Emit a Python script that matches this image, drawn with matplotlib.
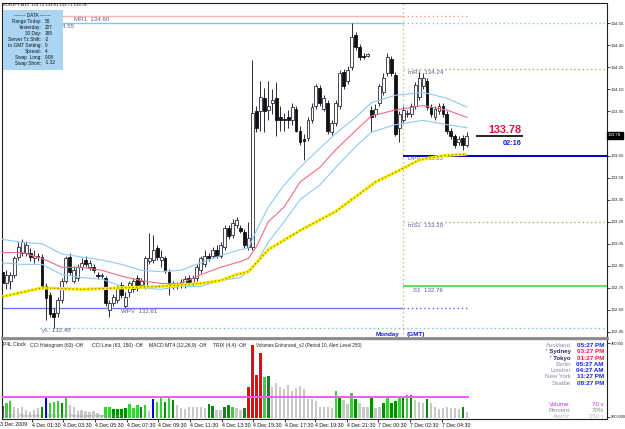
import matplotlib
matplotlib.use("Agg")
import matplotlib.pyplot as plt
import numpy as np
from matplotlib.patches import Rectangle

plt.rcParams['font.family'] = ['Liberation Sans', 'DejaVu Sans']

# ---- candles (EURJPY M15) ----
opens = [
    132.86, 132.78, 132.80, 132.84, 132.96, 132.99, 132.99, 132.99, 132.95, 132.97,
    132.96, 132.76, 132.70, 132.58, 132.58, 132.67, 132.80, 132.96, 132.80, 132.82,
    132.89, 132.94, 132.89, 132.89, 132.84, 132.83, 132.82, 132.60, 132.65, 132.67,
    132.77, 132.63, 132.72, 132.74, 132.82, 132.77, 132.76, 132.93, 132.94, 133.02,
    132.94, 132.95, 132.86, 132.78, 132.77, 132.77, 132.77, 132.82, 132.78, 132.82,
    132.87, 132.91, 132.97, 132.97, 133.01, 132.97, 133.03, 133.16, 133.11, 133.18,
    133.16, 133.13, 133.03, 133.03, 133.95, 133.95, 134.04, 133.96, 134.01, 134.04,
    133.91, 133.90, 133.91, 133.89, 133.97, 133.82, 133.76, 133.77, 133.89, 133.99,
    134.11, 133.97, 134.01, 133.81, 133.87, 133.99, 134.22, 134.16, 134.25, 134.47,
    134.39, 134.33, 134.33, 133.96, 133.93, 134.01, 134.08, 134.21, 134.31, 134.20,
    133.84, 133.89, 133.93, 133.93, 133.99, 134.05, 134.12, 134.16, 133.98, 133.91,
    133.95, 133.99, 133.93, 133.82, 133.78, 133.74, 133.77, 133.72]
closes = [
    132.78, 132.84, 132.84, 132.95, 133.03, 133.06, 133.04, 132.96, 132.97, 132.96,
    132.76, 132.68, 132.57, 132.55, 132.67, 132.80, 132.95, 132.86, 132.87, 132.89,
    132.92, 132.91, 132.92, 132.87, 132.83, 132.84, 132.65, 132.65, 132.69, 132.75,
    132.70, 132.69, 132.78, 132.80, 132.75, 132.80, 132.95, 132.95, 133.01, 132.96,
    132.96, 132.87, 132.77, 132.76, 132.76, 132.79, 132.81, 132.78, 132.82, 132.89,
    132.95, 132.97, 132.95, 133.01, 132.97, 133.04, 133.16, 133.10, 133.19, 133.21,
    133.14, 133.04, 133.09, 133.94, 133.84, 134.05, 133.95, 133.99, 134.03, 133.89,
    133.89, 133.89, 133.89, 133.98, 133.82, 133.74, 133.75, 133.89, 133.98, 134.12,
    134.01, 134.04, 133.82, 133.87, 134.01, 134.21, 134.12, 134.23, 134.46, 134.39,
    134.32, 134.32, 134.34, 133.91, 133.97, 134.12, 134.18, 134.32, 134.21, 133.80,
    133.93, 133.96, 133.94, 133.99, 134.13, 134.18, 134.18, 133.98, 133.93, 133.97,
    133.99, 133.93, 133.82, 133.78, 133.72, 133.76, 133.72, 133.78]
highs = [
    132.92, 132.87, 132.86, 132.97, 133.06, 133.08, 133.07, 133.02, 133.01, 132.99,
    132.98, 132.78, 132.72, 132.61, 132.69, 132.82, 132.97, 132.99, 132.90, 132.91,
    132.95, 132.97, 132.94, 132.91, 132.86, 132.85, 132.83, 132.67, 132.71, 132.77,
    132.79, 132.72, 132.80, 132.82, 132.84, 132.82, 132.97, 133.12, 133.11, 133.04,
    133.01, 132.97, 132.88, 132.80, 132.79, 132.81, 132.83, 132.84, 132.84, 132.91,
    132.97, 133.01, 132.99, 133.03, 133.04, 133.06, 133.18, 133.18, 133.22, 133.23,
    133.18, 133.15, 133.20, 134.30, 133.99, 134.16, 134.11, 134.16, 134.10, 134.15,
    133.99, 133.94, 133.96, 134.01, 133.99, 133.85, 133.80, 133.91, 134.01, 134.14,
    134.13, 134.06, 134.03, 133.89, 134.03, 134.23, 134.24, 134.26, 134.55, 134.49,
    134.41, 134.35, 134.35, 133.99, 134.00, 134.14, 134.21, 134.35, 134.33, 134.22,
    133.95, 133.99, 133.96, 134.01, 134.15, 134.22, 134.21, 134.18, 134.00, 133.99,
    134.01, 134.01, 133.95, 133.84, 133.80, 133.78, 133.79, 133.81]
lows = [
    132.76, 132.74, 132.74, 132.82, 132.94, 132.97, 132.97, 132.93, 132.92, 132.93,
    132.74, 132.53, 132.55, 132.48, 132.55, 132.65, 132.78, 132.84, 132.78, 132.80,
    132.87, 132.89, 132.87, 132.85, 132.81, 132.82, 132.63, 132.55, 132.63, 132.65,
    132.68, 132.61, 132.69, 132.72, 132.73, 132.75, 132.74, 132.91, 132.92, 132.94,
    132.89, 132.85, 132.70, 132.74, 132.74, 132.75, 132.75, 132.76, 132.76, 132.80,
    132.85, 132.89, 132.93, 132.95, 132.95, 132.95, 133.01, 133.08, 133.09, 133.16,
    133.12, 133.02, 133.01, 133.01, 133.81, 133.82, 133.81, 133.89, 133.93, 133.78,
    133.82, 133.82, 133.84, 133.86, 133.81, 133.72, 133.62, 133.75, 133.87, 133.97,
    133.99, 133.95, 133.80, 133.79, 133.85, 133.97, 134.10, 134.14, 134.23, 134.37,
    134.30, 134.31, 134.32, 133.81, 133.91, 133.99, 134.06, 134.19, 134.19, 133.78,
    133.74, 133.87, 133.91, 133.91, 133.97, 134.03, 134.10, 133.96, 133.91, 133.89,
    133.93, 133.91, 133.80, 133.76, 133.70, 133.72, 133.69, 133.71]

# ---- moving average / envelope (read at a few bars) ----
band_idx = [0, 5, 10, 15, 20, 25, 30, 35, 40, 45, 50, 55, 60, 62, 64, 67, 71, 75, 80, 84, 89, 93, 99, 106, 112, 117]
band_up = [133.08, 133.06, 133.05, 132.98, 132.96, 132.94, 132.91, 132.87, 132.86, 132.87, 132.92, 132.97, 133.01,
           133.02, 133.14, 133.30, 133.45, 133.57, 133.70, 133.80, 133.91, 134.01, 134.06, 134.08, 134.04, 133.98]
band_mid = [132.99, 132.99, 132.95, 132.89, 132.89, 132.87, 132.83, 132.80, 132.78, 132.78, 132.84, 132.89, 132.93,
            132.95, 133.03, 133.20, 133.30, 133.47, 133.57, 133.69, 133.82, 133.92, 133.96, 133.99, 133.96, 133.91]
band_dn = [132.92, 132.91, 132.91, 132.84, 132.82, 132.81, 132.76, 132.75, 132.74, 132.76, 132.76, 132.80, 132.82,
           132.87, 132.92, 133.06, 133.20, 133.35, 133.45, 133.57, 133.71, 133.81, 133.86, 133.89, 133.86, 133.84]
slow_idx = [0, 10, 20, 30, 40, 50, 55, 59, 62, 67, 75, 84, 89, 94, 100, 105, 111, 117]
slow_ma = [132.69, 132.75, 132.74, 132.75, 132.76, 132.78, 132.80, 132.84, 132.86, 133.01, 133.14, 133.27, 133.37,
           133.47, 133.55, 133.62, 133.65, 133.66]

# ---- pivot levels ----
MR1, yH, mR1, DPV, mS1, S1, WPV, yL = 134.60, 134.55, 134.24, 133.65, 133.20, 132.76, 132.61, 132.48
monday_x = 100.9
last_price = 133.78

price_ticks = [134.55, 134.40, 134.25, 134.10, 133.95, 133.80, 133.65, 133.50, 133.35,
               133.20, 133.05, 132.90, 132.75, 132.60, 132.45]

# ---- volumes ----
volumes = [
    143, 178, 201, 132, 120, 132, 97, 75, 97, 120,
    132, 235, 178, 189, 201, 178, 235, 155, 132, 86,
    97, 86, 75, 86, 63, 40, 132, 132, 109, 109,
    109, 120, 166, 120, 155, 132, 155, 86, 224, 189,
    235, 189, 247, 212, 155, 120, 109, 132, 132, 132,
    132, 120, 166, 143, 97, 97, 132, 155, 132, 120,
    97, 120, 361, 843, 499, 751, 476, 487, 361, 407,
    361, 338, 384, 315, 350, 373, 338, 224, 224, 201,
    132, 132, 132, 120, 315, 235, 212, 166, 292, 224,
    178, 132, 132, 235, 120, 132, 178, 235, 178, 201,
    235, 235, 270, 270, 212, 189, 178, 224, 178, 132,
    109, 120, 132, 120, 120, 109, 132, 70]
vol_kind = [
    'dk', 'lt', 'lt', 'gy', 'gy', 'gy', 'gy', 'gy', 'gy', 'gy',
    'dk', 'bl', 'lt', 'lt', 'lt', 'dk', 'lt', 'gy', 'gy', 'gy',
    'gy', 'gy', 'gy', 'gy', 'gy', 'gy', 'lt', 'lt', 'dk', 'dk',
    'dk', 'dk', 'lt', 'lt', 'lt', 'dk', 'lt', 'gy', 'bl', 'lt',
    'lt', 'dk', 'lt', 'dk', 'gy', 'gy', 'gy', 'gy', 'gy', 'gy',
    'gy', 'gy', 'dk', 'dk', 'gy', 'gy', 'dk', 'dk', 'lt', 'gy',
    'gy', 'dk', 'rd', 'rd', 'rd', 'rd', 'lt', 'dk', 'gy', 'gy',
    'gy', 'gy', 'gy', 'gy', 'gy', 'gy', 'gy', 'gy', 'gy', 'gy',
    'gy', 'gy', 'gy', 'gy', 'lt', 'dk', 'gy', 'gy', 'lt', 'dk',
    'gy', 'gy', 'gy', 'dk', 'gy', 'gy', 'dk', 'lt', 'dk', 'dk',
    'lt', 'dk', 'lt', 'dk', 'gy', 'gy', 'gy', 'dk', 'gy', 'gy',
    'gy', 'gy', 'gy', 'gy', 'gy', 'gy', 'dk', 'gy']
alert_level = 250

date_pos = [7.5, 15.3, 23.4, 31.4, 39.2, 47.3, 55.3, 63.1, 71.2, 78.8, 86.8, 94.6, 102.7, 110.8]
date_text = ['4 Dec 01:30', '4 Dec 03:30', '4 Dec 05:30', '4 Dec 07:30', '4 Dec 09:30', '4 Dec 11:30',
             '4 Dec 13:30', '4 Dec 15:30', '4 Dec 17:30', '4 Dec 19:30', '4 Dec 21:30', '7 Dec 00:30',
             '7 Dec 02:30', '7 Dec 04:30']

data_labels = ['Range Today:', 'Yesterday:', '30 Day:', 'Server Tz Shift:', 'to GMT Setting:',
               'Spread:', 'Swap  Long:', 'Swap Short:']
data_values = ['58', '207', '195', '-2', '0', '4', '0.08', '-1.32']

cities = ['Auckland', "' Sydney", "' Tokyo", 'Berlin', 'London', 'New York', 'Seattle']
city_times = ['05:27 PM', '03:27 PM', '01:27 PM', '05:27 AM', '04:27 AM', '11:27 PM', '08:27 PM']
city_open = [False, True, True, False, False, False, False]

W, H = 625, 429
fig = plt.figure(figsize=(W / 100, H / 100), dpi=100)
fig.patch.set_facecolor('white')


def fx(x):
    return x / W


def fy(y):
    return 1 - y / H


def ftext(x, y, s, **kw):
    kw.setdefault('va', 'center')
    return fig.text(fx(x), fy(y), s, **kw)


ax = fig.add_axes([fx(2), fy(338), fx(605), 335 / H])
vax = fig.add_axes([fx(2), fy(419), fx(605), 80 / H], sharex=ax)

n = len(closes)
idx = np.arange(n)
o = np.array(opens)
c = np.array(closes)
up = c >= o
lo = np.minimum(o, c)
hgt = np.maximum(np.abs(c - o), 0.004)

# levels
lab_col = '#5c5c96'
ax.hlines(MR1, -1, monday_x, color='#ffb4b4', lw=1, zorder=1)
ax.hlines(MR1, monday_x, 117.4, color='#ff9a9a', lw=1, ls=(0, (1, 2)), zorder=1)
ax.hlines(yH, -1, monday_x, color='#86c4f0', lw=1, zorder=1)
ax.hlines(yH, monday_x, 153, color='#86c4f0', lw=1, ls=(0, (1, 2)), zorder=1)
ax.hlines(mR1, monday_x, 153, color='#b8a868', lw=1, ls=(0, (1, 2)), zorder=1)
ax.hlines(DPV, monday_x, 153, color='#0000d0', lw=1.4, zorder=1)
ax.hlines(mS1, monday_x, 153, color='#b8a868', lw=1, ls=(0, (1, 2)), zorder=1)
ax.hlines(S1, monday_x, 153, color='#5ee05e', lw=1.4, zorder=1)
ax.hlines(WPV, -1, monday_x, color='#7676f2', lw=1, zorder=1)
ax.hlines(WPV, monday_x, 117.4, color='#6a6af0', lw=1, ls=(0, (1, 2)), zorder=1)
ax.hlines(yL, 9.5, 153, color='#62c8c8', lw=1, ls=(0, (1, 2)), zorder=1)
ax.axvline(monday_x, color='#c8b888', lw=1, ls=(0, (1, 2)), zorder=1)

lab_kw = dict(fontsize=4.4, color=lab_col, va='top', zorder=2)
ax.text(18.1, MR1 - 0.005, 'MR1  134.60', **lab_kw)
ax.text(10.4, yH - 0.005, 'yH  134.55', **lab_kw)   # mostly hidden under the data box
ax.text(102.2, mR1 - 0.005, 'mR1  134.24', **lab_kw)
ax.text(102.2, DPV - 0.005, 'DPV  133.65', **lab_kw)
ax.text(102.2, mS1 - 0.008, 'mS1  133.20', **lab_kw)
ax.text(103.4, S1 - 0.008, 'S1  132.76', **lab_kw)
ax.text(29.9, WPV - 0.005, 'WPV  132.61', **lab_kw)
ax.text(10.0, yL - 0.005, 'yL  132.48', **lab_kw)

# envelope + slow average
ax.plot(band_idx, band_up, color='#8ccaf6', lw=0.8, zorder=5)
ax.plot(band_idx, band_dn, color='#8ccaf6', lw=0.8, zorder=5)
ax.plot(band_idx, band_mid, color='#f46a88', lw=0.8, zorder=5)
ax.plot(slow_idx, slow_ma, color='#ffee00', lw=2.2, zorder=5, solid_capstyle='butt')
ax.plot(slow_idx, slow_ma, color='#8c7e00', lw=0.9, ls=(0, (1, 2)), zorder=5)

# candles
ax.vlines(idx, lows, highs, color='#2a2a3a', lw=0.7, zorder=3)
ax.bar(idx[up], hgt[up], 0.72, bottom=lo[up], color='white', edgecolor='#2a2a3a', lw=0.6, zorder=4)
ax.bar(idx[~up], hgt[~up], 0.72, bottom=lo[~up], color='#111111', edgecolor='#111111', lw=0.6, zorder=4)

# current price marker
ax.hlines(last_price, 119.3, 131.2, color='black', lw=1.2, zorder=6)
ax.text(126.6, last_price + 0.012, '133.78', fontsize=7.8, fontweight='bold', color='#dc1440',
        ha='center', va='bottom', zorder=6)
ax.text(130.8, last_price - 0.045, '02:16', fontsize=5.3, fontweight='bold', color='#1020e0',
        ha='right', va='center', zorder=6)

ax.set_xlim(-0.08, 152.33)
ax.set_ylim(132.409, 134.688)
ax.yaxis.tick_right()
ax.set_yticks(price_ticks)
# 133.80 sits under the live price box
ax.set_yticklabels(['' if t == 133.80 else '%.2f' % t for t in price_ticks])
ax.tick_params(axis='y', labelsize=3.2, length=2, width=0.6, pad=0.8, colors='#222222')
ax.tick_params(axis='x', bottom=False, labelbottom=False)
for s in ['left', 'top', 'right']:
    ax.spines[s].set_color('#202020')
    ax.spines[s].set_linewidth(0.8)
ax.spines['bottom'].set_color('#8c8c8c')
ax.spines['bottom'].set_linewidth(2)

# volume panel
kind_col = {'dk': '#0a8a0a', 'lt': '#3ccf3c', 'bl': '#0000ee', 'rd': '#ff0000', 'gy': '#c8c8c8'}
vax.bar(idx, volumes, 0.62, color=[kind_col[k] for k in vol_kind], zorder=2)
vax.hlines(alert_level, -1, 117.5, color='#ff55ff', lw=1.4, zorder=3)
vax.set_ylim(-6, 912)
vax.yaxis.tick_right()
vax.set_yticks([866, 17])
vax.set_yticklabels(['900000', '9000000'])
vax.tick_params(axis='y', labelsize=2.9, length=2, width=0.6, pad=0.8, colors='#222222')
vax.set_xticks(date_pos)
vax.set_xticklabels(date_text, fontsize=3.8, ha='left')
vax.tick_params(axis='x', length=2.5, width=0.6, pad=0.5, colors='#111111')
for s in ['left', 'right', 'bottom']:
    vax.spines[s].set_color('#202020')
    vax.spines[s].set_linewidth(0.8)
vax.spines['top'].set_color('#8c8c8c')
vax.spines['top'].set_linewidth(1)

# ---- texts ----
ftext(3, 5, 'EURJPY,M15  133.72 133.81 133.71 133.78', fontsize=3.1, color='#111111', ha='left')

fig.add_artist(Rectangle((fx(3), fy(70)), fx(60), 60 / H, transform=fig.transFigure,
                         facecolor='#aad6f4', edgecolor='none', zorder=10))
ftext(33, 15.7, '------- DATA -------', fontsize=3.4, color='#111111', ha='center', zorder=11)
for k, (lb, vl) in enumerate(zip(data_labels, data_values)):
    yy = 21.7 + 5.9 * k
    ftext(41.5, yy, lb, fontsize=3.4, color='#111111', ha='right', zorder=11)
    ftext(45, yy, vl, fontsize=3.4, color='#111111', ha='left', zorder=11)

ftext(399, 334.5, 'Monday', fontsize=4.6, fontweight='bold', color='#1a1ad0', ha='right')
ftext(407, 334.5, '(GMT)', fontsize=4.6, fontweight='bold', color='#1a1ad0', ha='left')

ftext(608, 135.5, '133.78', fontsize=3.2, color='white', ha='left', zorder=12,
      bbox=dict(boxstyle='square,pad=0.3', facecolor='black', edgecolor='black'))

ind_kw = dict(fontsize=3.6, color='#222222', ha='left')
ftext(3, 345, 'P4L Clock', **ind_kw)
ftext(30, 345, 'CCI Histogram (63) -Off', **ind_kw)
ftext(92, 345, 'CCI Line (63, 150) -Off', **ind_kw)
ftext(149, 345, 'MACD MT4 (12,26,9) -Off', **ind_kw)
ftext(213, 345, 'TRIX (4,4) -Off', **ind_kw)
ftext(256, 345, 'Volumes Enhanced_v2 (Period 10, Alert Level 250)', fontsize=3.3, color='#222222', ha='left')
ftext(3, 416.5, 'PVDD - MetaTrader \u00a9 2001-2009 MetaQuotes Software Corp.', fontsize=3.2,
      color='#9a9a9a', ha='left', zorder=12)
ftext(0, 424, '3 Dec 2009', fontsize=3.8, color='#111111', ha='left')

for k, (city, tm, op) in enumerate(zip(cities, city_times, city_open)):
    yy = 345.5 + 6.3 * k
    if op:
        ftext(571, yy, city, fontsize=4.4, fontweight='bold', color='#262666', ha='right')
        ftext(604, yy, tm, fontsize=4.6, fontweight='bold', color='#ff1040', ha='right')
    else:
        ftext(571, yy, city, fontsize=4.4, color='#8a8aa8', ha='right')
        ftext(604, yy, tm, fontsize=4.6, fontweight='bold', color='#1020f0', ha='right')

ftext(571, 405, 'Volume:', fontsize=4.4, color='#c030e0', ha='right')
ftext(604, 405, '70 v', fontsize=4.4, color='#c030e0', ha='right')
ftext(571, 411, 'Percent:', fontsize=4.4, color='#888888', ha='right')
ftext(604, 411, '70%', fontsize=4.4, color='#888888', ha='right')
ftext(571, 416.5, 'AlertV:', fontsize=4.4, color='#bbbbbb', ha='right')
ftext(604, 416.5, '250 v', fontsize=4.4, color='#bbbbbb', ha='right')

fig.savefig('out.png', dpi=100)
